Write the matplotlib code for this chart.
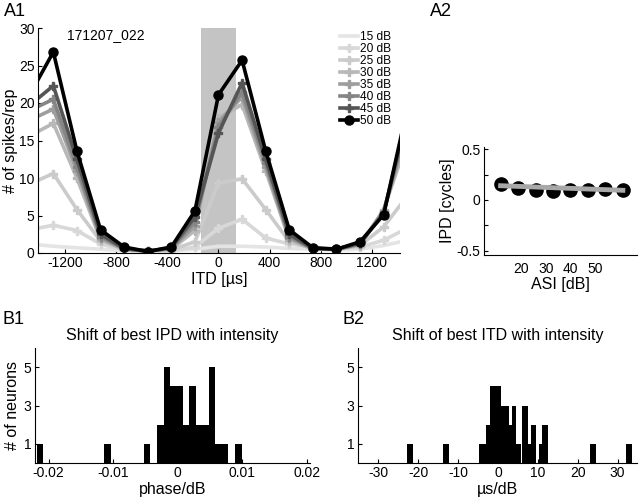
import matplotlib
matplotlib.use('Agg')
import matplotlib.pyplot as plt
from matplotlib.ticker import FuncFormatter
import numpy as np

plt.rcParams['font.family'] = ['Liberation Sans', 'DejaVu Sans']
plt.rcParams['font.size'] = 10
plt.rcParams['axes.unicode_minus'] = False
plt.rcParams['xtick.direction'] = 'in'
plt.rcParams['ytick.direction'] = 'in'
plt.rcParams['xtick.major.size'] = 3
plt.rcParams['ytick.major.size'] = 3
plt.rcParams['xtick.major.pad'] = 2.5
plt.rcParams['ytick.major.pad'] = 2.5

# A1: ITD tuning curves at several intensities
itd = [-1480, -1295, -1110, -925, -740, -555, -370, -185, 0,
       185, 370, 555, 740, 925, 1110, 1295, 1480]
level_labels = ['15 dB', '20 dB', '25 dB', '30 dB', '35 dB', '40 dB', '45 dB', '50 dB']
rate_15 = [1.2, 0.9, 0.7, 0.5, 0.3, 0.2, 0.3, 0.5, 0.9, 0.9, 0.8, 0.6, 0.5, 0.4, 0.5, 1.0, 1.7]
rate_20 = [3.1, 3.7, 3.0, 1.2, 0.4, 0.3, 0.3, 0.8, 3.3, 4.5, 2.0, 1.2, 0.8, 0.5, 0.8, 1.7, 3.3]
rate_25 = [9.2, 10.6, 5.8, 1.6, 0.5, 0.3, 0.4, 1.5, 9.3, 9.9, 5.8, 1.5, 0.6, 0.6, 1.0, 3.5, 7.6]
rate_30 = [15.6, 17.3, 10.0, 1.8, 0.5, 0.3, 0.5, 3.0, 18.0, 19.8, 11.0, 1.8, 0.5, 0.5, 1.0, 5.8, 15.0]
rate_35 = [17.7, 19.2, 11.0, 2.0, 0.5, 0.3, 0.6, 3.6, 17.5, 20.8, 11.5, 2.0, 0.6, 0.5, 1.2, 5.6, 16.5]
rate_40 = [19.0, 20.5, 11.5, 2.2, 0.6, 0.3, 0.6, 4.2, 16.8, 21.5, 12.0, 2.2, 0.6, 0.5, 1.2, 5.5, 17.5]
rate_45 = [19.7, 22.3, 12.5, 2.5, 0.6, 0.2, 0.7, 4.8, 16.0, 22.7, 12.5, 2.5, 0.6, 0.5, 1.3, 5.3, 18.5]
rate_50 = [21.1, 26.8, 13.6, 3.1, 0.8, 0.2, 0.8, 5.6, 21.1, 25.7, 13.6, 3.1, 0.7, 0.5, 1.5, 5.1, 19.3]
rates = [rate_15, rate_20, rate_25, rate_30, rate_35, rate_40, rate_45, rate_50]
grays = ['#e4e4e4', '#d8d8d8', '#cbcbcb', '#b8b8b8', '#9e9e9e', '#858585', '#555555', '#000000']
pi_range = [-135, 140]

# A2: best IPD vs ASI
asi = [15, 20, 25, 30, 35, 40, 45, 50]
best_ipd = [0.16, 0.12, 0.10, 0.09, 0.095, 0.095, 0.11, 0.10]
fit_ipd = [0.14, 0.095]

# B1: histogram of IPD shift (phase/dB)
ipd_left = [-0.0218, -0.0114, -0.0053, -0.0032, -0.0022, -0.0012, -0.0002, 0.0008,
            0.0018, 0.0028, 0.0038, 0.0048, 0.0058, 0.0068, 0.0089]
ipd_count = [1, 1, 1, 2, 5, 4, 4, 2, 4, 2, 2, 5, 1, 1, 1]
ipd_binw = 0.001

# B2: histogram of ITD shift (us/dB)
itd_edges = [-22.8, -21.3, -13.8, -12.3, -4.8, -3.0, -1.9, 0.7, 2.9, 3.6, 4.6, 5.7,
             6.1, 7.5, 8.3, 9.6, 10.2, 11.0, 12.5, 23.1, 24.6, 32.2, 33.6]
itd_count = [1, 0, 1, 0, 1, 2, 4, 3, 2, 3, 1, 0, 3, 1, 2, 0, 1, 2, 0, 1, 0, 1]

fig = plt.figure(figsize=(6.4, 5.0), dpi=100)

def boxoff(ax):
    ax.spines['top'].set_visible(False)
    ax.spines['right'].set_visible(False)

# ---- A1
ax1 = fig.add_axes([0.0594, 0.494, 0.566, 0.45])
ax1.axvspan(pi_range[0], pi_range[1], color='#c4c4c4', lw=0, zorder=0)
for r, c, lab in zip(rates, grays, level_labels):
    if lab == '50 dB':
        ax1.plot(itd, r, color=c, lw=2.6, marker='o', ms=6.5, label=lab, zorder=3)
    elif lab == '15 dB':
        ax1.plot(itd, r, color=c, lw=2.6, label=lab, zorder=2)
    else:
        ax1.plot(itd, r, color=c, lw=2.6, marker='P', ms=6, mec=c, label=lab, zorder=2)
ax1.set_xlim(-1415, 1425)
ax1.set_ylim(0, 30)
ax1.set_xticks(np.arange(-1200, 1201, 400))
ax1.set_yticks(np.arange(0, 31, 5))
ax1.set_xlabel('ITD [µs]', fontsize=11.5, labelpad=1)
ax1.set_ylabel('# of spikes/rep', fontsize=11.5, labelpad=1)
boxoff(ax1)
ax1.text(0.188, 0.97, '171207_022', transform=ax1.transAxes, ha='center', va='center', fontsize=10)
ax1.legend(loc='upper left', bbox_to_anchor=(0.834, 0.985), frameon=False, fontsize=8.6,
           handlelength=1.5, handletextpad=0.2, labelspacing=0.0, borderpad=0, borderaxespad=0)

# ---- A2
ax2 = fig.add_axes([0.756, 0.49, 0.239, 0.216])
ax2.plot(asi, best_ipd, 'o', color='black', ms=9.5, zorder=2)
ax2.plot([asi[0], asi[-1]], fit_ipd, color='#a8a8a8', lw=3.5, zorder=3)
ax2.set_xlim(10.2, 54)
ax2.set_ylim(-0.54, 0.52)
ax2.set_xticks([21, 28, 35, 42])
ax2.set_xticklabels(['20', '30', '40', '50'])
ax2.tick_params(axis='x', length=0, pad=5)
ax2.set_yticks([-0.5, -0.25, 0, 0.25, 0.5])
ax2.set_yticklabels(['-0.5', '', '0', '', '0.5'])
ax2.set_xlabel('ASI [dB]', fontsize=11.5, labelpad=1)
ax2.set_ylabel('IPD [cycles]', fontsize=11.5, labelpad=1)
boxoff(ax2)

# ---- B1
ax3 = fig.add_axes([0.0547, 0.074, 0.43, 0.23])
ax3.bar(ipd_left, ipd_count, width=ipd_binw, align='edge', color='black', lw=0)
ax3.set_xlim(-0.0221, 0.0205)
ax3.set_ylim(0, 6)
ax3.set_yticks([1, 3, 5])
ax3.set_xticks([-0.02, -0.01, 0, 0.01, 0.02])
ax3.xaxis.set_major_formatter(FuncFormatter(lambda v, p: '%g' % round(v, 4)))
ax3.set_xlabel('phase/dB', fontsize=11.5, labelpad=1)
ax3.set_ylabel('# of neurons', fontsize=11.5, labelpad=3)
ax3.set_title('Shift of best IPD with intensity', fontsize=11.5, pad=6)
boxoff(ax3)

# ---- B2
ax4 = fig.add_axes([0.559, 0.074, 0.436, 0.23])
ax4.bar(itd_edges[:-1], itd_count, width=np.diff(itd_edges), align='edge', color='black', lw=0)
ax4.set_xlim(-35.1, 34.8)
ax4.set_ylim(0, 6)
ax4.set_yticks([1, 3, 5])
ax4.set_xticks(np.arange(-30, 31, 10))
ax4.set_xlabel('µs/dB', fontsize=11.5, labelpad=1)
ax4.set_title('Shift of best ITD with intensity', fontsize=11.5, pad=6)
boxoff(ax4)

fig.text(0.006, 1 - 12 / 500, 'A1', fontsize=13, va='center')
fig.text(430 / 640, 1 - 12 / 500, 'A2', fontsize=13, va='center')
fig.text(0.004, 1 - 320 / 500, 'B1', fontsize=13, va='center')
fig.text(342 / 640, 1 - 320 / 500, 'B2', fontsize=13, va='center')

fig.savefig('out.png', dpi=100)
